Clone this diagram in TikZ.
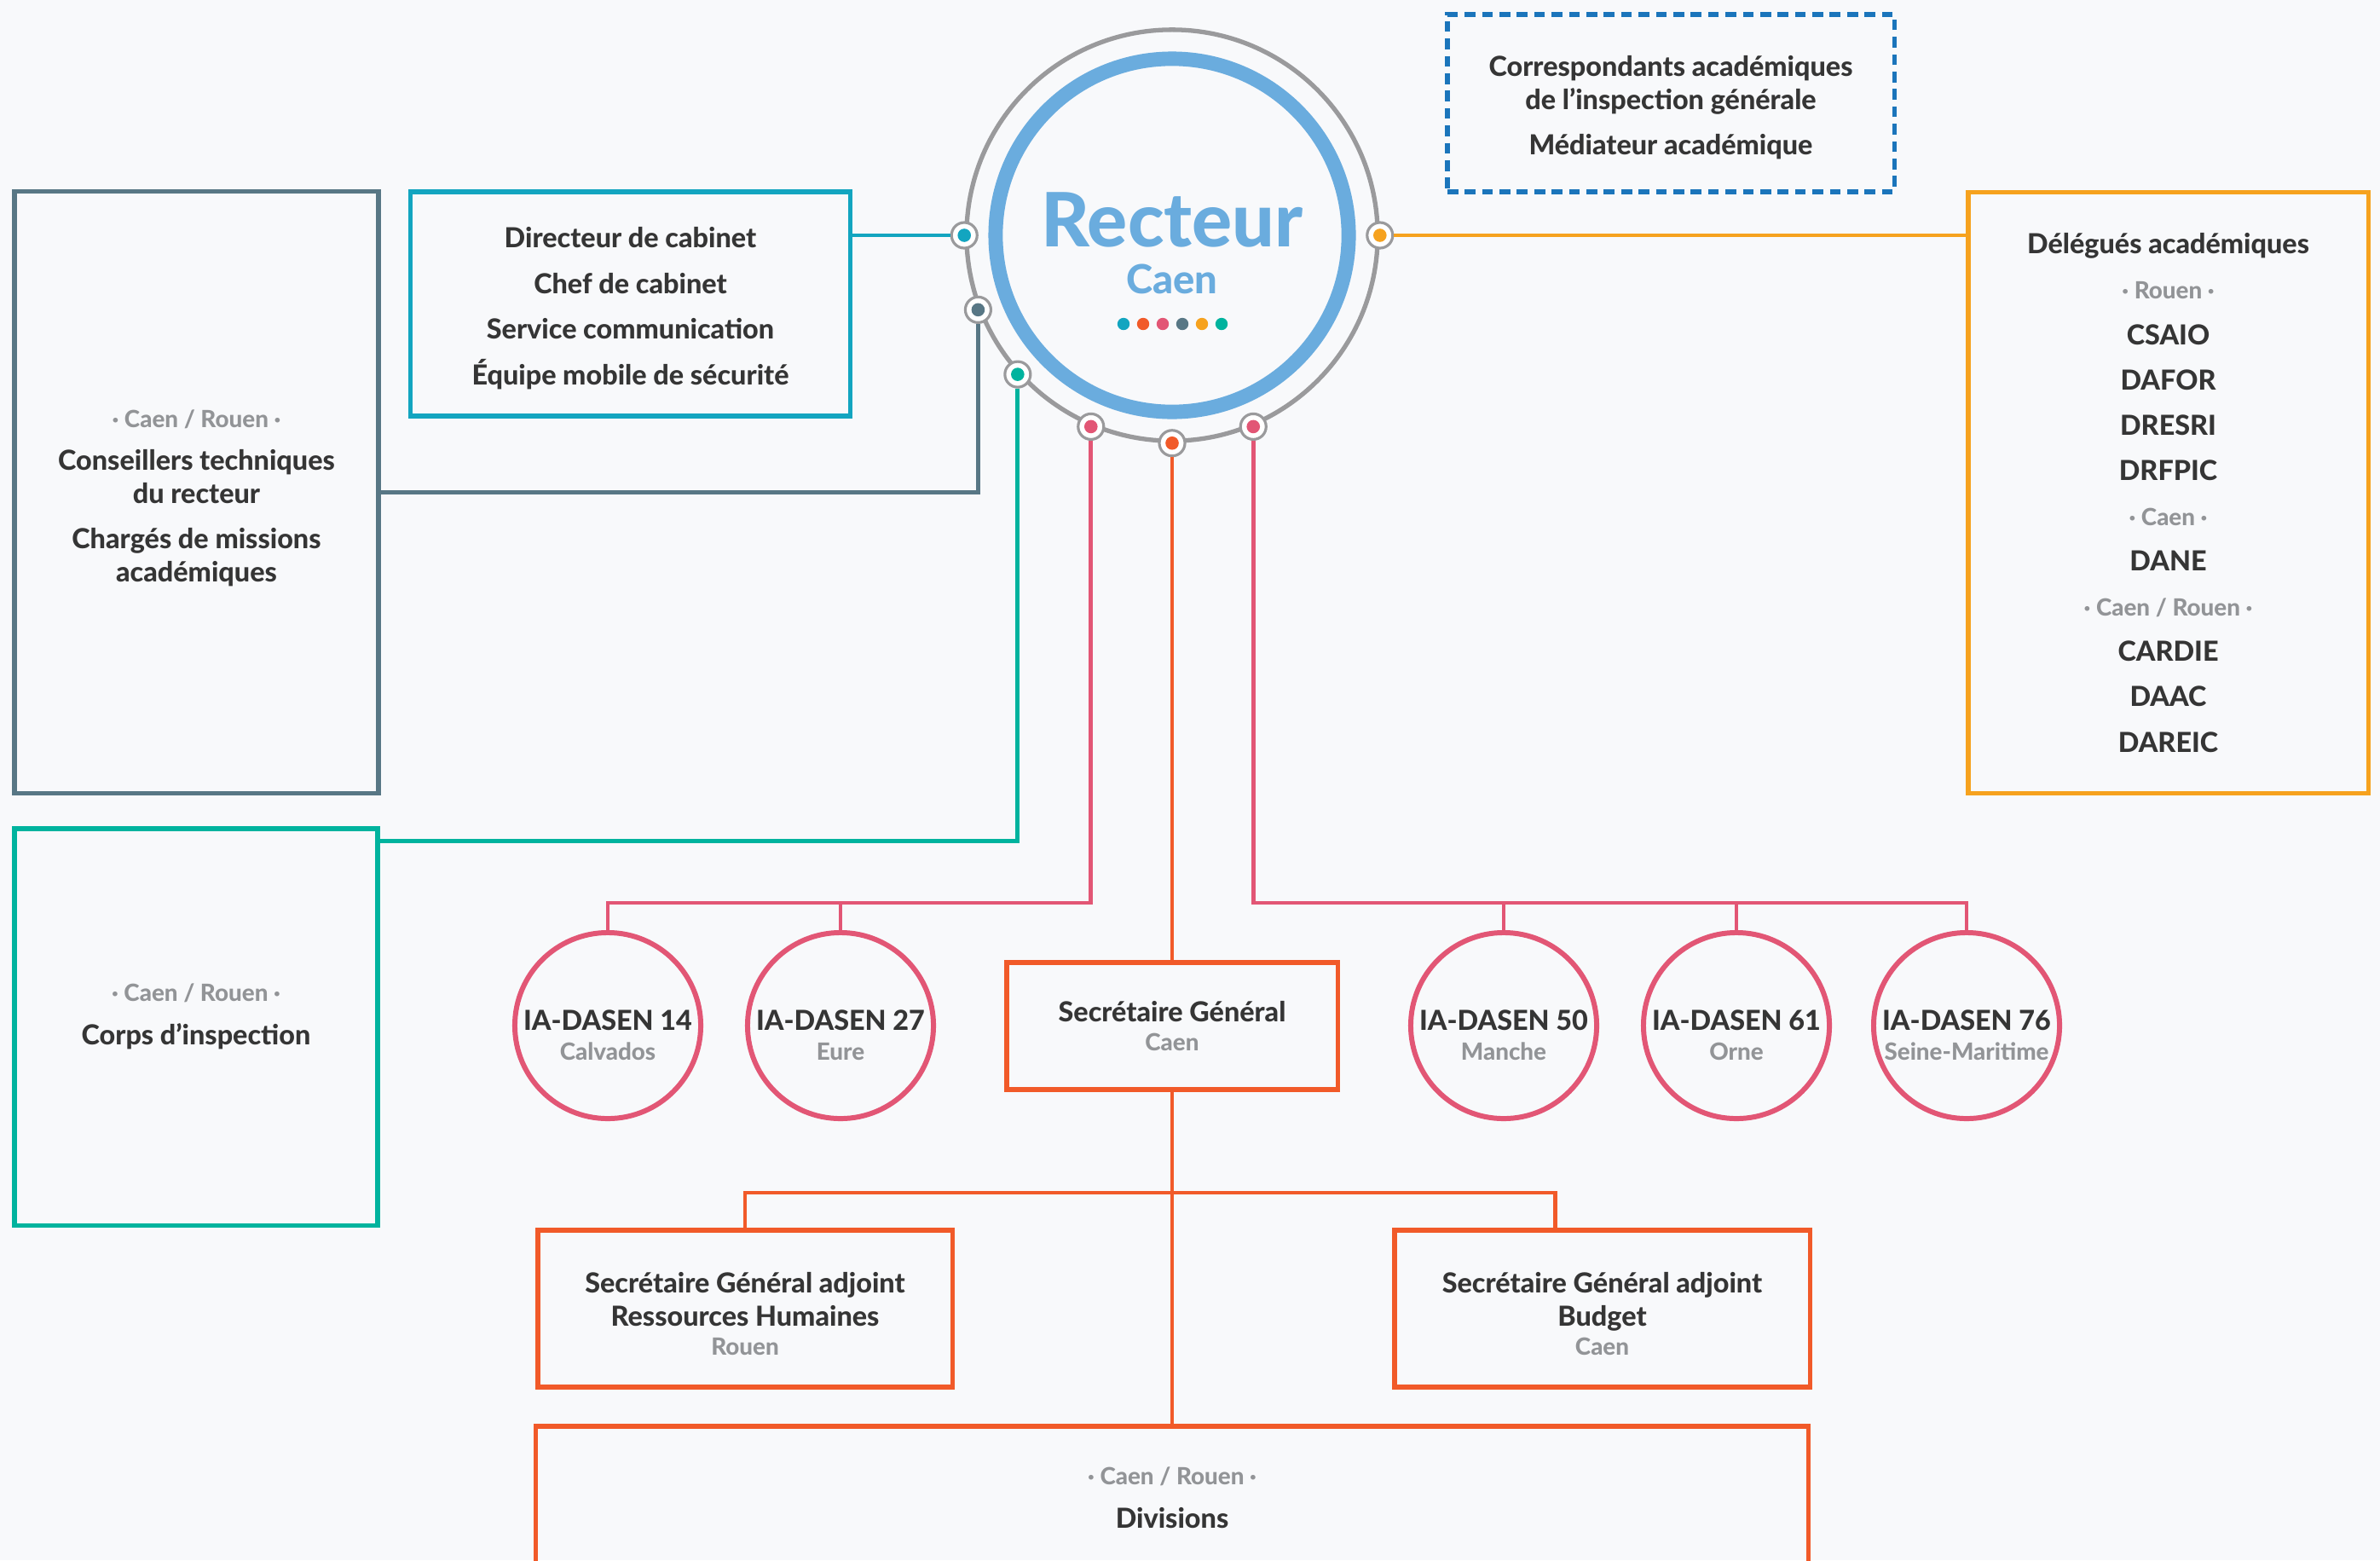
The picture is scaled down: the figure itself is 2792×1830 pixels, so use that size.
\documentclass[tikz,border=0pt]{standalone}
\usepackage{fontspec}
\setmainfont{Lato}[BoldFont={Lato Heavy}]
\usetikzlibrary{calc}

\definecolor{cabteal}{HTML}{13A5C0}
\definecolor{slate}{HTML}{587785}
\definecolor{insgreen}{HTML}{00B39E}
\definecolor{dasenpink}{HTML}{E25675}
\definecolor{sgorange}{HTML}{F15A29}
\definecolor{delyellow}{HTML}{F6A21E}
\definecolor{rectblue}{HTML}{6AACDE}
\definecolor{dashblue}{HTML}{1B75BB}
\definecolor{ringgray}{HTML}{9A9A9C}
\definecolor{textdark}{HTML}{353535}
\definecolor{subgray}{HTML}{929497}
\definecolor{bggray}{HTML}{F8F9FB}

\newcommand{\lieu}[1]{{\fontsize{7.9}{9}\selectfont\color{subgray}#1}}
\newcommand{\haut}[1]{\rule{0pt}{#1}}
\newcommand{\bas}[1]{\rule[-#1]{0pt}{0pt}}

\tikzset{
  box/.style={draw=#1, line width=1.5pt, rectangle, align=center, inner sep=0pt,
    font=\fontsize{9.2}{11.1}\selectfont\bfseries, text=textdark},
  dasen/.style={circle, draw=dasenpink, line width=1.7pt, minimum size=2.18cm,
    align=center, inner sep=0pt, font=\fontsize{9.2}{11.1}\selectfont\bfseries, text=textdark},
  port/.style={circle, draw=ringgray, line width=0.9pt, fill=white, minimum size=0.3cm,
    inner sep=0pt, path picture={\fill[#1] (path picture bounding box.center) circle (0.078cm);}},
  link/.style={draw=#1, line width=1.35pt},
}

\begin{document}
\begin{tikzpicture}[x=0.01cm, y=-0.01cm]
    \path[use as bounding box, fill=bggray] (0,0) rectangle (2792,1830);

    \node[circle, draw=ringgray, line width=1.5pt, minimum size=4.82cm, inner sep=0pt] (recteur) at (1375,276) {};
    \draw[rectblue, line width=4.8pt] (recteur.center) circle (2.07cm);
    \node[font=\fontsize{25}{28}\selectfont\bfseries, text=rectblue] (titre) at (1375,258) {Recteur};
    \node[font=\fontsize{13.4}{15}\selectfont\bfseries, text=rectblue] (ville) at (1375,327) {Caen};
    \foreach \c [count=\i from 0] in {cabteal,sgorange,dasenpink,slate,delyellow,insgreen}
      \fill[\c] (1318+23*\i,380) circle (0.072cm);

    \node[port=cabteal] (dotcab) at (recteur.180) {};
    \node[port=slate] (dotcons) at (recteur.201) {};
    \node[port=insgreen] (dotcorps) at (recteur.222) {};
    \node[port=dasenpink] (dotdasenl) at (recteur.247) {};
    \node[port=sgorange] (dotsg) at (recteur.270) {};
    \node[port=dasenpink] (dotdasenr) at (recteur.293) {};
    \node[port=delyellow] (dotdel) at (recteur.0) {};

    \node[box=slate, minimum width=4.27cm, minimum height=7.05cm] (conseillers) at (230.5,577.5)
      {\lieu{\haut{10pt}· Caen / Rouen ·}\\[3.1pt] Conseillers techniques\\ du recteur\\[4pt] Chargés de missions\\ académiques};
    \node[box=cabteal, minimum width=5.15cm, minimum height=2.63cm] (cabinet) at (739.5,356.5)
      {\haut{9.8pt}Directeur de cabinet\\[4.1pt] Chef de cabinet\\[4.1pt] Service communication\\[4.1pt] Équipe mobile de sécurité};
    \node[box=insgreen, minimum width=4.26cm, minimum height=4.65cm] (corps) at (230,1204.5)
      {\lieu{· Caen / Rouen ·}\\[3.4pt] Corps d’inspection\bas{8.6pt}};
    \node[box=delyellow, minimum width=4.69cm, minimum height=7.04cm] (delegues) at (2543.5,578)
      {Délégués académiques\\[4pt] \lieu{· Rouen ·}\\[4pt] CSAIO\\[4pt] DAFOR\\[4pt] DRESRI\\[4pt] DRFPIC\\[4pt]
       \lieu{· Caen ·}\\[4pt] DANE\\[4pt] \lieu{· Caen / Rouen ·}\\[4pt] CARDIE\\[4pt] DAAC\\[4pt] DAREIC};
    \node[box=dashblue, dash pattern=on 3.6pt off 2.2pt, minimum width=5.24cm, minimum height=2.08cm] (correspondants) at (1960,121)
      {\haut{9.8pt}Correspondants académiques\\ de l’inspection générale\\[4pt] Médiateur académique};

    \node[dasen] (dasen14) at (713,1203) {\haut{13.2pt}IA-DASEN 14\\[-1.2pt]\lieu{Calvados}};
    \node[dasen] (dasen27) at (986,1203) {\haut{13.2pt}IA-DASEN 27\\[-1.2pt]\lieu{Eure}};
    \node[dasen] (dasen50) at (1764,1203) {\haut{13.2pt}IA-DASEN 50\\[-1.2pt]\lieu{Manche}};
    \node[dasen] (dasen61) at (2037,1203) {\haut{13.2pt}IA-DASEN 61\\[-1.2pt]\lieu{Orne}};
    \node[dasen] (dasen76) at (2307,1203) {\haut{13.2pt}IA-DASEN 76\\[-1.2pt]\lieu{Seine-Maritime}};

    \node[box=sgorange, minimum width=3.88cm, minimum height=1.49cm] (sg) at (1375,1203.5)
      {Secrétaire Général\\[-1.4pt]\lieu{Caen}};
    \node[box=sgorange, minimum width=4.86cm, minimum height=1.84cm] (sgarh) at (874,1535)
      {\haut{10.3pt}Secrétaire Général adjoint\\ Ressources Humaines\\[-1.4pt]\lieu{Rouen}};
    \node[box=sgorange, minimum width=4.87cm, minimum height=1.84cm] (sgabudget) at (1879.5,1535)
      {\haut{10.3pt}Secrétaire Général adjoint\\ Budget\\[-1.4pt]\lieu{Caen}};
    \node[box=sgorange, minimum width=14.92cm, minimum height=1.68cm] (divisions) at (1375,1757)
      {\lieu{· Caen / Rouen ·}\\[3.4pt] Divisions};

    \coordinate (pinkbus) at (0,1059);
    \coordinate (sgbus) at (0,1399);
    \coordinate (budgettop) at ($(sgabudget.north)+(-55,0)$);

    \draw[link=cabteal] (dotcab) -- (dotcab -| cabinet.east);
    \draw[link=slate] (dotcons) |- (conseillers.east);
    \draw[link=insgreen] (dotcorps) |- ($(corps.north east)+(0,17)$);
    \draw[link=delyellow] (dotdel) -- (dotdel -| delegues.west);
    \draw[link=dasenpink] (dotdasenl) |- (dasen14.north |- pinkbus) -- (dasen14.north);
    \draw[link=dasenpink] (dasen27.north |- pinkbus) -- (dasen27.north);
    \draw[link=dasenpink] (dotdasenr) |- (dasen76.north |- pinkbus) -- (dasen76.north);
    \draw[link=dasenpink] (dasen50.north |- pinkbus) -- (dasen50.north);
    \draw[link=dasenpink] (dasen61.north |- pinkbus) -- (dasen61.north);
    \draw[link=sgorange] (dotsg) -- (sg.north);
    \draw[link=sgorange] (sg.south) -- (divisions.north);
    \draw[link=sgorange] (sgarh.north) |- (budgettop |- sgbus) -- (budgettop);
\end{tikzpicture}
\end{document}
